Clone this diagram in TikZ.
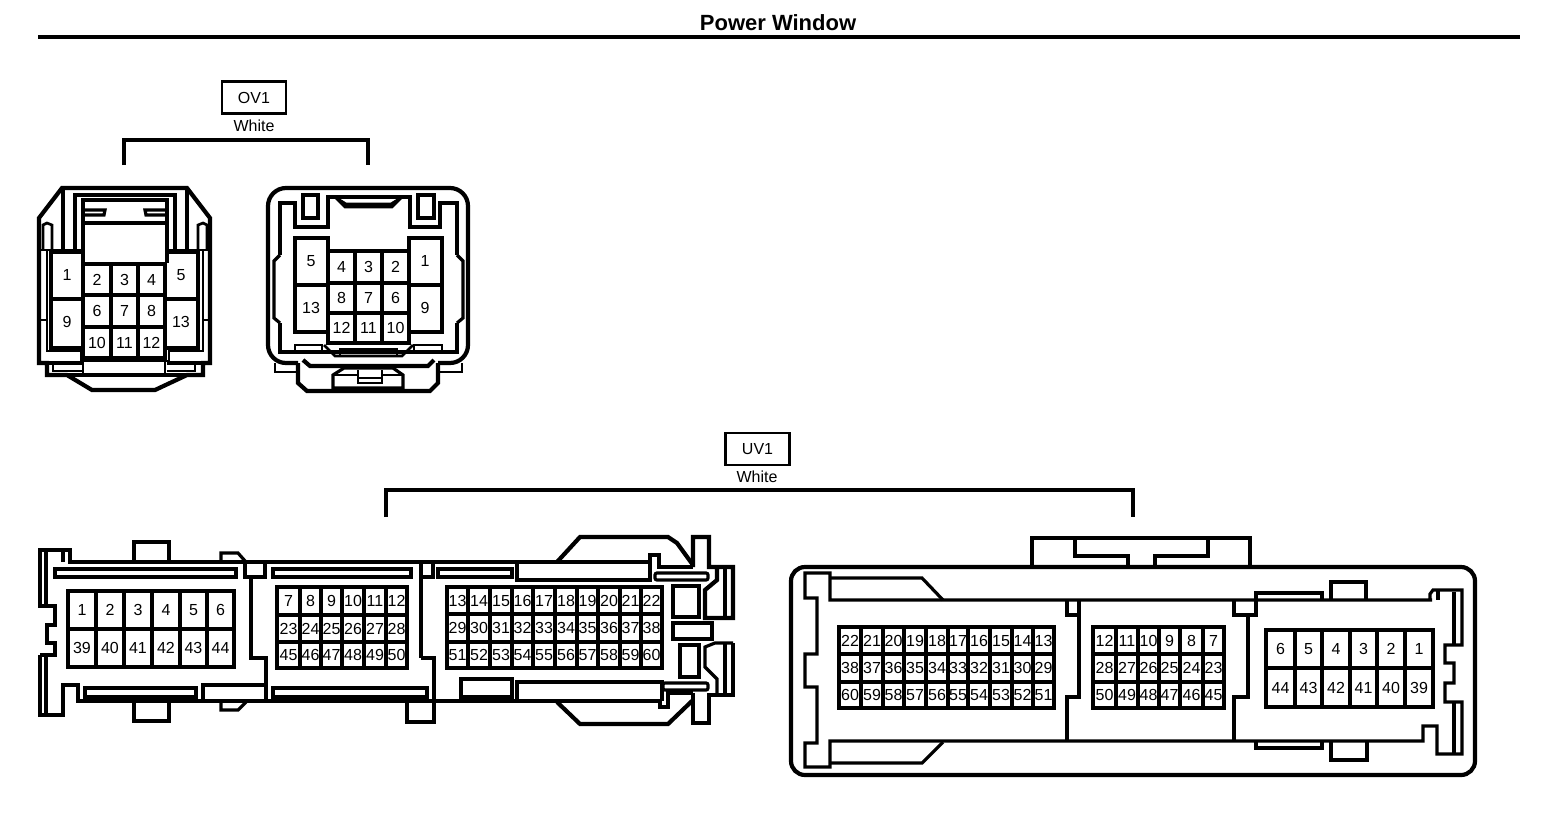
\documentclass[tikz,border=0pt]{standalone}
\usepackage{fontspec}
\setmainfont{Liberation Sans}
\tikzset{
  ln/.style={line width=1.6pt,line join=miter,line cap=butt,draw=black},
  grd/.style={ln,line width=1.85pt},
  thk/.style={ln,line width=2.1pt},
  tn/.style={ln,line width=1.35pt},
  pin/.style={inner sep=0pt,text height=5.8pt,text depth=0pt,font=\fontsize{8}{8}\selectfont,text=black},
  lab/.style={inner sep=0pt,font=\fontsize{8}{8}\selectfont,text=black},
  code/.style={draw=black,line width=1.3pt,inner sep=0pt,minimum width=32pt,minimum height=16pt,font=\fontsize{8}{8}\selectfont},
  title/.style={inner sep=0pt,font=\bfseries\fontsize{11}{11}\selectfont,text=black}
}
% #1 x list  #2 y list  #3 x0  #4 x1  #5 y0  #6 y1
\newcommand{\pgrid}[6]{%
  \foreach \gx in {#1} \draw[grd] (\gx,#5-1.85) -- (\gx,#6+1.85);
  \foreach \gy in {#2} \draw[grd] (#3-1.85,\gy) -- (#4+1.85,\gy);
}
% #1 name prefix  #2 x array  #3 ytop  #4 ybottom  #5 labels  #6 style
\newcommand{\prow}[6]{%
  \foreach \t [count=\i] in {#5} {%
    \pgfmathsetmacro\xa{{#2}[\i-1]}%
    \pgfmathsetmacro\xb{{#2}[\i]}%
    \node[#6] (#1-\t) at ({(\xa+\xb)/2},{(#3+#4)/2}) {\t};
  }%
}
\begin{document}
\begin{tikzpicture}[x=0.5pt,y=-0.5pt]
\useasboundingbox (0,0) rectangle (1568,836);
\fill[white] (0,0) rectangle (1568,836);
% title
\node[title] (ttl) at (778,23) {Power Window};
\coordinate (ruleL) at (38,37); \coordinate (ruleR) at (1520,37);
\draw[line width=2pt] (ruleL) -- (ruleR);
% OV1 label
\node[code] (ov) at (254,97.5) {OV1};
\node[lab] (ovw) at (254,125.5) {White};
\coordinate (ovL) at (124,165); \coordinate (ovR) at (368,165);
\draw[ln] (ovL) -- (124,140) -- (368,140) -- (ovR);
% UV1 label
\node[code] (uv) at (757.5,449) {UV1};
\node[lab] (uvw) at (757,476.5) {White};
\coordinate (uvL) at (386,517); \coordinate (uvR) at (1133,517);
\draw[ln] (uvL) -- (386,490) -- (1133,490) -- (uvR);

% ===== OV1 left connector =====
\draw[thk] (39,363) -- (39,218) -- (62,188) -- (187,188) -- (210,218) -- (210,363) -- (203,363) -- (203,375) -- (187,375) -- (155,390) -- (92,390) -- (67,375) -- (47,375) -- (47,363) -- cycle;
\draw[ln] (47,375) -- (203,375);
\draw[ln] (63,190) -- (63,250) (75,250) -- (75,195) -- (175,195) -- (175,250) (187,190) -- (187,250);
\draw[ln] (83,263) -- (83,200) -- (167,200) -- (167,263);
\draw[ln] (84,210) -- (105,210) -- (104,215) -- (84,215);
\draw[ln] (166,210) -- (145,210) -- (146,215) -- (166,215);
\draw[ln] (83,223) -- (167,223);
\draw[tn] (43,250) -- (43,225) -- (47,223) -- (52,225) -- (52,250);
\draw[tn] (198,250) -- (198,225) -- (203,223) -- (207,225) -- (207,250);
\draw[tn] (47,250) -- (39,250) (47,320) -- (39,320) (203,250) -- (210,250) (203,320) -- (210,320);
\draw[tn] (47,320) -- (47,250) -- (83,250) (203,320) -- (203,250) -- (167,250);
\draw[tn] (47,320) -- (47,351) -- (81,351) -- (81,361) -- (169,361) -- (169,351) -- (203,351) -- (203,320);
\draw[ln] (39,363) -- (83,363) (167,363) -- (210,363);
\draw[tn] (53,363) -- (53,371) -- (83,371) (167,371) -- (195,371) -- (195,363);
\draw[tn] (83,361) -- (83,375) (165,361) -- (165,375);
\pgrid{83,111,138,165}{264,295,327,358}{83}{165}{264}{358}
\pgrid{51,198}{252,299,348}{51}{83}{252}{348}
\draw[grd] (165,252) -- (198,252) (165,299) -- (198,299) (165,348) -- (198,348);
\draw[grd] (83,252) -- (83,348);
\def\ovax{83,111,138,165}
\prow{A}{\ovax}{264}{295}{2,3,4}{pin}
\prow{A}{\ovax}{295}{327}{6,7,8}{pin}
\prow{A}{\ovax}{327}{358}{10,11,12}{pin}
\node[pin] (A-1) at (67,275) {1};
\node[pin] (A-9) at (67,322) {9};
\node[pin] (A-5) at (181,275) {5};
\node[pin] (A-13) at (181,322) {13};

% ===== OV1 right connector =====
\draw[thk,rounded corners=9pt] (298,363) -- (268,363) -- (268,188) -- (468,188) -- (468,363) -- (438,363);
\draw[thk] (298,363) -- (298,383) -- (307,391) -- (430,391) -- (438,383) -- (438,363);
\draw[tn] (275,363) -- (275,372) -- (298,372) (438,372) -- (462,372) -- (462,363);
\draw[ln] (280,323) -- (280,352) -- (457,352) -- (457,323);
\draw[ln] (280,255) -- (280,203) -- (295,203) -- (295,227) -- (328,227) -- (328,197) -- (410,197) -- (410,227) -- (440,227) -- (440,203) -- (457,203) -- (457,255);
\draw[ln] (280,255) -- (274,261) -- (274,318) -- (280,323);
\draw[ln] (457,255) -- (463,261) -- (463,318) -- (457,323);
\draw[ln] (303,195) rectangle (318,218);
\draw[ln] (418,195) rectangle (434,218);
\draw[tn] (335,197) -- (345,207) -- (392,207) -- (402,197) (338,199) -- (346,204) -- (391,204) -- (399,199);
\pgrid{328,355,382,409}{251,283,313,343}{328}{409}{251}{343}
\pgrid{295,328}{238,285,332}{295}{328}{238}{332}
\pgrid{409,442}{238,285,332}{409}{442}{238}{332}
\def\ovbx{328,355,382,409}
\prow{B}{\ovbx}{251}{283}{4,3,2}{pin}
\prow{B}{\ovbx}{283}{313}{8,7,6}{pin}
\prow{B}{\ovbx}{313}{343}{12,11,10}{pin}
\node[pin] (B-5) at (311,261) {5};
\node[pin] (B-13) at (311,308) {13};
\node[pin] (B-1) at (425,261) {1};
\node[pin] (B-9) at (425,308) {9};
\draw[tn] (295,352) -- (295,345) -- (322,345) -- (322,352) (414,352) -- (414,345) -- (442,345) -- (442,352);
\draw[tn] (324,345) -- (335,356) -- (402,356) -- (413,345);
\draw[tn] (340,356) -- (340,349) -- (397,349) -- (397,356);
\draw[thk] (303,360) -- (310,366) -- (428,366) -- (434,360);
\draw[ln] (333,388) -- (333,375) -- (344,368) -- (393,368) -- (403,375) -- (403,388) -- cycle;
\draw[tn] (333,375) -- (358,375) (382,375) -- (403,375);
\draw[tn] (358,370) -- (358,383) -- (382,383) -- (382,370) (358,378) -- (382,378);

% ===== UV1 left connector =====
\draw[ln] (40,655) -- (55,655) -- (55,643) -- (47,643) -- (47,625) -- (55,625) -- (55,606) -- (40,606) -- (40,550) -- (70,550) -- (70,562) -- (650,562) -- (650,555) -- (659,555) -- (659,567) -- (693,567);
\draw[ln] (40,655) -- (40,715) -- (63,715) -- (63,685) -- (78,685) -- (78,701) -- (660,701) -- (660,707) -- (668,707) -- (668,693) -- (693,693);
\draw[ln] (46,606) -- (46,552) (46,655) -- (46,713) (63,550) -- (63,562);
\draw[thk] (134,562) -- (134,542) -- (169,542) -- (169,562);
\draw[thk] (134,701) -- (134,721) -- (169,721) -- (169,701);
\draw[ln] (55,569) rectangle (236,577);
\draw[ln] (85,688) rectangle (196,697);
\draw[ln] (221,562) -- (221,553) -- (238,553) -- (246,562);
\draw[ln] (221,701) -- (221,710) -- (238,710) -- (246,702);
\draw[ln] (245,562) rectangle (265,577);
\draw[ln] (251,577) -- (251,658) -- (266,658) -- (266,701);
\draw[ln] (203,685) rectangle (266,701);
\draw[ln] (273,569) rectangle (411,577);
\draw[ln] (273,688) rectangle (427,697);
\draw[ln] (421,562) -- (421,658);
\draw[ln] (421,577) -- (433,577) -- (433,562);
\draw[ln] (407,701) -- (407,722) -- (434,722) -- (434,701);
\draw[ln] (421,658) -- (434,658) -- (434,701);
\draw[ln] (438,569) rectangle (512,577);
\draw[ln] (461,679) rectangle (512,697);
\draw[ln] (517,562) -- (517,580) -- (650,580) -- (650,562);
\draw[ln] (517,701) -- (517,682) -- (662,682) -- (662,701);
\draw[thk] (557,562) -- (580,537) -- (668,537) -- (677,543) -- (693,565);
\draw[thk] (557,702) -- (580,724) -- (668,724) -- (693,700);
\draw[thk] (693,567) -- (693,537) -- (709,537) -- (709,567) -- (733,567) -- (733,618) -- (705,618) -- (705,590) -- (717,580) -- (717,567);
\draw[ln] (725,567) -- (725,618);
\draw[ln,rounded corners=1pt] (655,573) rectangle (708,580);
\draw[thk] (673,586) rectangle (699,617);
\draw[thk] (673,623) rectangle (712,639);
\draw[thk] (680,645) rectangle (699,677);
\draw[thk] (733,643) -- (733,695) -- (709,695) -- (709,723) -- (693,723) -- (693,693);
\draw[ln] (725,643) -- (725,695);
\draw[ln] (733,643) -- (715,643) -- (705,647) -- (705,667) -- (717,679) -- (717,695);
\draw[ln,rounded corners=1pt] (663,683) rectangle (708,690);
\pgrid{68,96,124,152,180,207,234}{591,629,667}{68}{234}{591}{667}
\def\ga{68,96,124,152,180,207,234}
\prow{C}{\ga}{591}{629}{1,2,3,4,5,6}{pin}
\prow{C}{\ga}{629}{667}{39,40,41,42,43,44}{pin}
\pgrid{277,300,321,342,364,386,407}{587,615,642,668}{277}{407}{587}{668}
\def\gb{277,300,321,342,364,386,407}
\prow{C}{\gb}{587}{615}{7,8,9,10,11,12}{pin}
\prow{C}{\gb}{615}{642}{23,24,25,26,27,28}{pin}
\prow{C}{\gb}{642}{668}{45,46,47,48,49,50}{pin}
\pgrid{447,468,490,512,533,555,577,598,620,641,662}{587,614,642,668}{447}{662}{587}{668}
\def\gc{447,468,490,512,533,555,577,598,620,641,662}
\prow{C}{\gc}{587}{614}{13,14,15,16,17,18,19,20,21,22}{pin}
\prow{C}{\gc}{614}{642}{29,30,31,32,33,34,35,36,37,38}{pin}
\prow{C}{\gc}{642}{668}{51,52,53,54,55,56,57,58,59,60}{pin}

% ===== UV1 right connector =====
\draw[thk,rounded corners=7pt] (791,567) rectangle (1475,775);
\draw[thk] (1032,567) -- (1032,538) -- (1250,538) -- (1250,567);
\draw[ln] (1075,538) -- (1075,556) -- (1128,556) -- (1128,567);
\draw[ln] (1208,538) -- (1208,556) -- (1155,556) -- (1155,567);
\draw[ln] (1432,600) -- (830,600) -- (830,573) -- (805,573) -- (805,598) -- (817,598) -- (817,654) -- (805,654) -- (805,687) -- (817,687) -- (817,743) -- (805,743) -- (805,767) -- (830,767) -- (830,741) -- (1423,741) -- (1423,726) -- (1437,726) -- (1437,754) -- (1462,754) -- (1462,702) -- (1445,702) -- (1445,683) -- (1454,683) -- (1454,663) -- (1445,663) -- (1445,645) -- (1462,645) -- (1462,590) -- (1433,590) -- (1430,594) -- (1430,600);
\draw[ln] (1438,590) -- (1438,600);
\draw[ln] (1454,592) -- (1454,645) (1454,702) -- (1454,753);
\draw[ln] (830,578) -- (922,578) -- (943,600);
\draw[ln] (830,763) -- (922,763) -- (943,742);
\draw[ln] (1067,600) -- (1067,615) -- (1079,615);
\draw[ln] (1079,600) -- (1079,697) -- (1067,697) -- (1067,741);
\draw[ln] (1234,600) -- (1234,615) -- (1256,615) -- (1256,593) -- (1322,593) -- (1322,600);
\draw[ln] (1248,615) -- (1248,697) -- (1234,697) -- (1234,741);
\draw[ln] (1331,600) -- (1331,582) -- (1366,582) -- (1366,600);
\draw[thk] (1331,741) -- (1331,760) -- (1367,760) -- (1367,741);
\draw[ln] (1256,741) -- (1256,748) -- (1322,748) -- (1322,741);
\pgrid{839,861,883,904,926,948,968,990,1012,1033,1054}{627,654,682,708}{839}{1054}{627}{708}
\def\gd{839,861,883,904,926,948,968,990,1012,1033,1054}
\prow{D}{\gd}{627}{654}{22,21,20,19,18,17,16,15,14,13}{pin}
\prow{D}{\gd}{654}{682}{38,37,36,35,34,33,32,31,30,29}{pin}
\prow{D}{\gd}{682}{708}{60,59,58,57,56,55,54,53,52,51}{pin}
\pgrid{1093,1116,1138,1159,1180,1203,1224}{627,654,682,708}{1093}{1224}{627}{708}
\def\ge{1093,1116,1138,1159,1180,1203,1224}
\prow{D}{\ge}{627}{654}{12,11,10,9,8,7}{pin}
\prow{D}{\ge}{654}{682}{28,27,26,25,24,23}{pin}
\prow{D}{\ge}{682}{708}{50,49,48,47,46,45}{pin}
\pgrid{1266,1295,1322,1350,1377,1405,1433}{630,668,707}{1266}{1433}{630}{707}
\def\gf{1266,1295,1322,1350,1377,1405,1433}
\prow{D}{\gf}{630}{668}{6,5,4,3,2,1}{pin}
\prow{D}{\gf}{668}{707}{44,43,42,41,40,39}{pin}
\end{tikzpicture}
\end{document}
